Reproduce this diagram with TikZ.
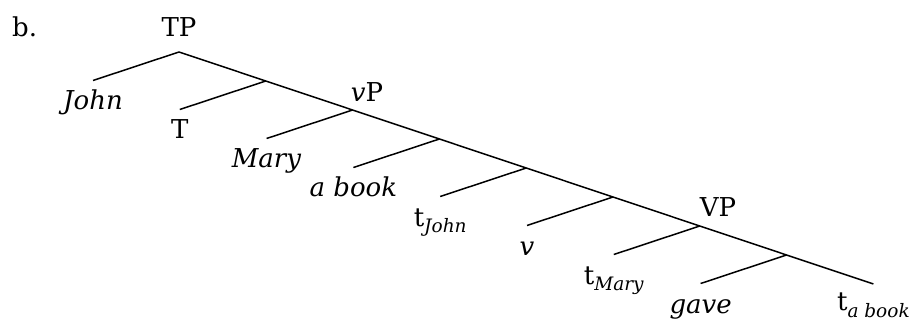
\documentclass[tikz,border=0pt]{standalone}
\usepackage{fontspec}
\setmainfont{DejaVu Serif}
\newcommand{\subit}[1]{\raisebox{-6.5pt}{\fontsize{18.5}{20}\selectfont\itshape #1}}
\begin{document}
\begin{tikzpicture}[x=1pt,y=-1pt,
  branch/.style={line width=1.5pt, line cap=butt},
  lbl/.style={inner sep=0pt, anchor=base, font=\fontsize{26}{30}\selectfont},
  leaf/.style={lbl, yshift=-29.5pt}]
\useasboundingbox (0,0) rectangle (912,320);
% spine points
\foreach \i in {0,...,8} \coordinate (p\i) at ({179+86.8*\i},{52+29*\i});
% left child ends
\foreach \i in {0,...,7} \coordinate (c\i) at ({179+86.8*(\i-1)+0.8},{81+29*\i-0.5});
% connectors
\draw[branch] (p0) -- (p8);
\foreach \i in {0,...,7} \draw[branch] (p\i) -- (c\i);
% labels
\node[lbl, anchor=base west] (b) at (12,37) {b.};
\node[lbl] (TP) at (179,37) {TP};
\node[lbl] (vP) at (367,102) {\textit{v}P};
\node[lbl] (VP) at (718,217) {VP};
\node[leaf] (john) at (c0) {\textit{John}};
\node[leaf] (T) at (c1) {T};
\node[leaf] (mary) at (c2) {\textit{Mary}};
\node[leaf] (abook) at (c3) {\textit{a book}};
\node[leaf] (tjohn) at (c4) {t\subit{John}};
\node[leaf] (v) at (c5) {\textit{v}};
\node[leaf] (tmary) at (c6) {t\subit{Mary}};
\node[leaf] (gave) at (c7) {\textit{gave}};
\node[leaf, yshift=3pt] (tabook) at (p8) {t\subit{a book}};
\end{tikzpicture}
\end{document}
